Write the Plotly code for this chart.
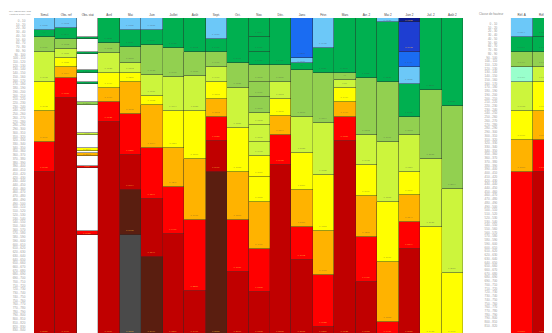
import plotly.graph_objects as go

# ---------------- data ----------------
left_columns = ["Simul.", "Obs. ref", "Obs. stat", "Avril", "Mai", "Juin", "Juillet",
                "Août", "Sept.", "Oct.", "Nov.", "Déc.", "Janv.", "Févr.", "Mars",
                "Avr. 2", "Mai 2", "Juin 2", "Juil. 2", "Août 2"]
right_columns = ["Réf. A", "Réf. B"]

c01_classes = ["LB", "G", "OG", "YG", "Y", "O", "R", "DR"]
c01_heights = [12, 7, 15, 30, 30, 31, 30, 165]
c02_classes = ["LB", "G", "OG", "YG", "Y", "O", "R", "DR"]
c02_heights = [10, 11, 10, 9, 9, 11, 21, 239]
c03_classes = ["W", "G", "W", "G", "W", "G", "W", "G", "W", "OG", "W", "YG", "W", "Y", "W", "O", "W", "R", "W", "R", "W"]
c03_heights = [19, 2, 13, 2, 16, 3, 9, 2, 19, 3, 28, 2, 13, 3, 2, 3, 10, 2, 63, 4, 102]
c04_classes = ["G", "OG", "YG", "Y", "O", "R", "DR"]
c04_heights = [25, 10, 20, 15, 15, 20, 215]
c05_classes = ["LB", "G", "OG", "YG", "Y", "O", "R", "DR", "BR", "GR"]
c05_heights = [12, 17, 16, 10, 9, 33, 41, 35, 45, 102]
c06_classes = ["LB", "G", "OG", "YG", "Y", "O", "R", "DR", "BR"]
c06_heights = [12, 15, 30, 21, 10, 43, 51, 59, 79]
c07_classes = ["G", "OG", "YG", "Y", "O", "R", "DR"]
c07_heights = [30, 29, 35, 37, 39, 47, 103]
c08_classes = ["G", "OG", "YG", "Y", "O", "R", "DR"]
c08_heights = [34, 24, 36, 48, 61, 72, 45]
c09_classes = ["LB", "G", "OG", "YG", "Y", "O", "R", "DR", "BR"]
c09_heights = [21, 13, 15, 15, 18, 18, 24, 31, 165]
c10_classes = ["G", "OG", "YG", "Y", "O", "R", "DR"]
c10_heights = [45, 25, 41, 44, 48, 53, 64]
c11_classes = ["G", "G", "G", "OG", "OG", "OG", "YG", "YG", "YG", "Y", "Y", "O", "R", "DR"]
c11_heights = [19, 15, 13, 17, 15, 17, 12, 17, 14, 21, 25, 47, 44, 44]
c12_classes = ["G", "OG", "YG", "Y", "O", "R", "DR"]
c12_heights = [47, 17, 18, 17, 19, 30, 172]
c13_classes = ["BL", "LB", "G", "OG", "YG", "Y", "O", "R", "DR"]
c13_heights = [40, 5, 7, 48, 36, 37, 37, 34, 76]
c14_classes = ["LB", "G", "OG", "YG", "Y", "O", "R", "DR"]
c14_heights = [30, 25, 51, 52, 56, 45, 52, 9]
c15_classes = ["G", "OG", "YG", "Y", "O", "R", "DR"]
c15_heights = [55, 7, 8, 15, 15, 24, 196]
c16_classes = ["G", "OG", "YG", "Y", "O", "R", "DR"]
c16_heights = [60, 58, 30, 31, 41, 46, 54]
c17_classes = ["LB", "G", "OG", "YG", "Y", "O", "R"]
c17_heights = [4, 60, 61, 60, 61, 60, 14]
c18_classes = ["NV", "DB", "BL", "LB", "G", "OG", "YG", "Y", "O", "R", "DR"]
c18_heights = [4, 30, 15, 17, 34, 18, 37, 23, 27, 27, 88]
c19_classes = ["G", "OG", "YG", "Y"]
c19_heights = [72, 70, 68, 110]
c20_classes = ["G", "OG", "YG", "Y"]
c20_heights = [89, 83, 85, 63]
c21_classes = ["LB", "G", "OG", "MI", "YG", "Y", "O", "R"]
c21_heights = [19, 15, 15, 15, 30, 29, 32, 165]
c22_classes = ["G", "G", "OG", "YG", "Y", "O", "R", "DR"]
c22_heights = [19, 15, 15, 15, 30, 29, 32, 165]

column_total = 320
row_labels = [f"{i * 10} - {(i + 1) * 10}" for i in range(84)]
right_row_labels = [f"{i * 10} - {(i + 1) * 10}" for i in range(82)]

# ---------------- styles ----------------
class_colors = {
    "NV": "#0B1B8E", "DB": "#1E3ED2", "BL": "#1A6CF2", "LB": "#6CC8F8",
    "G": "#00B050", "OG": "#92D050", "YG": "#CCF53C", "MI": "#99FFCC",
    "Y": "#FFFF00", "O": "#FFB300", "R": "#FF0000", "DR": "#C00000",
    "BR": "#5A1E10", "GR": "#4A4A4A", "W": "#FFFFFF",
}
dark_classes = {"NV", "DB", "DR", "BR", "GR", "R"}

left_data = [
    (c01_classes, c01_heights), (c02_classes, c02_heights), (c03_classes, c03_heights),
    (c04_classes, c04_heights), (c05_classes, c05_heights), (c06_classes, c06_heights),
    (c07_classes, c07_heights), (c08_classes, c08_heights), (c09_classes, c09_heights),
    (c10_classes, c10_heights), (c11_classes, c11_heights), (c12_classes, c12_heights),
    (c13_classes, c13_heights), (c14_classes, c14_heights), (c15_classes, c15_heights),
    (c16_classes, c16_heights), (c17_classes, c17_heights), (c18_classes, c18_heights),
    (c19_classes, c19_heights), (c20_classes, c20_heights),
]
right_data = [(c21_classes, c21_heights), (c22_classes, c22_heights)]

fig = go.Figure()


def add_stack(names, data, xa, ya):
    maxlen = max(len(c) for c, _ in data)
    for k in range(maxlen):
        xs, ys, cols, texts, tcols = [], [], [], [], []
        for name, (cls, hts) in zip(names, data):
            if k < len(cls):
                xs.append(name)
                ys.append(hts[k])
                cols.append(class_colors[cls[k]])
                texts.append("" if cls[k] == "W" else f"{hts[k] / column_total:.4f}")
                tcols.append("rgba(255,200,60,0.8)" if cls[k] in dark_classes
                             else "rgba(70,70,70,0.55)")
        fig.add_trace(go.Bar(
            x=xs, y=ys, xaxis=xa, yaxis=ya,
            marker=dict(color=cols, line=dict(color="rgba(40,40,40,0.45)", width=0.6)),
            text=texts, textposition="inside", insidetextanchor="end",
            textfont=dict(size=2.5, color=tcols, family="Liberation Sans"),
            showlegend=False, hoverinfo="skip",
        ))


add_stack(left_columns, left_data, "x", "y")
add_stack(right_columns, right_data, "x2", "y2")

left_ticks = [3 + 3.75 * i for i in range(len(row_labels))]
right_ticks = [6 + 3.75 * i for i in range(len(right_row_labels))]

fig.update_layout(
    width=552, height=333,
    margin=dict(l=26, r=6, t=8, b=5),
    paper_bgcolor="white", plot_bgcolor="white",
    barmode="stack", bargap=0,
    font=dict(family="Liberation Sans", size=3, color="#888888"),
    xaxis=dict(domain=[0, 0.825], type="category", side="top", showgrid=False,
               zeroline=False, showline=False, ticks="",
               tickfont=dict(size=3, color="#444444")),
    xaxis2=dict(domain=[0.917, 1.0], type="category", side="top", anchor="y2",
                showgrid=False, zeroline=False, showline=False, ticks="",
                tickfont=dict(size=3, color="#444444")),
    yaxis=dict(range=[column_total, 0], showgrid=False, zeroline=False, showline=False,
               tickmode="array", tickvals=left_ticks, ticktext=row_labels,
               ticks="outside", ticklen=7, tickcolor="white",
               tickfont=dict(size=3, color="#9a9a9a")),
    yaxis2=dict(range=[column_total, 0], anchor="x2", showgrid=False, zeroline=False,
                showline=False, tickmode="array", tickvals=right_ticks,
                ticktext=right_row_labels, ticks="outside", ticklen=12,
                tickcolor="white", tickfont=dict(size=3, color="#9a9a9a")),
    showlegend=False,
    annotations=[
        dict(text="NIV. TEMPORAIRE<br>Hauteur d'eau (cm)", x=-0.027, y=1.0, xref="paper",
             yref="paper", xanchor="center", yanchor="bottom", showarrow=False,
             font=dict(size=2.5, color="#888888"), align="center"),
        dict(text="Classe de hauteur", x=0.878, y=1.0, xref="paper", yref="paper",
             xanchor="center", yanchor="bottom", showarrow=False,
             font=dict(size=3, color="#888888")),
    ],
)

fig.write_html("out.html", config={"displayModeBar": False})
